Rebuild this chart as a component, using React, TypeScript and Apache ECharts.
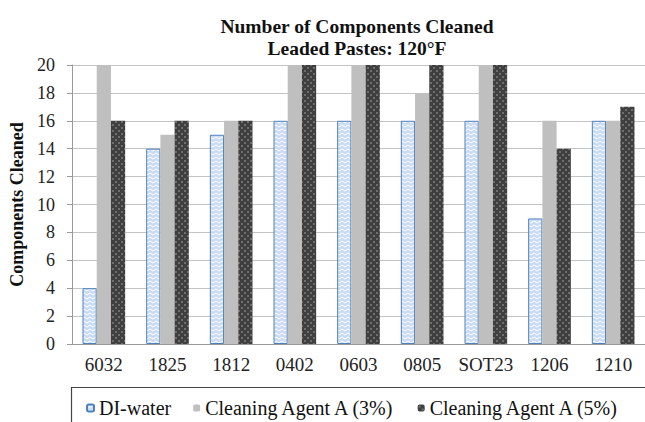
import React, { useEffect, useRef } from "react";
import * as echarts from "echarts";

const categories = ["6032", "1825", "1812", "0402", "0603", "0805", "SOT23", "1206", "1210"];
const diWater = [4, 14, 15, 16, 16, 16, 16, 9, 16];
const agent3 = [20, 15, 16, 20, 20, 18, 20, 16, 16];
const agent5 = [16, 16, 16, 20, 20, 20, 20, 14, 17];
const yTicks = { min: 0, max: 20, interval: 2 };
const seriesNames = ["DI-water", "Cleaning Agent A (3%)", "Cleaning Agent A (5%)"];

const FONT = "Liberation Serif";

function makeDiPattern(): HTMLCanvasElement {
  const c = document.createElement("canvas");
  c.width = 6;
  c.height = 4;
  const ctx = c.getContext("2d")!;
  ctx.fillStyle = "#c9dbf2";
  ctx.fillRect(0, 0, 6, 4);
  ctx.strokeStyle = "#ffffff";
  ctx.lineWidth = 1;
  ctx.beginPath();
  ctx.moveTo(0, 1);
  ctx.lineTo(3, 3);
  ctx.lineTo(6, 1);
  ctx.stroke();
  return c;
}

function makeDarkPattern(): HTMLCanvasElement {
  const c = document.createElement("canvas");
  c.width = 6;
  c.height = 6;
  const ctx = c.getContext("2d")!;
  ctx.fillStyle = "#3f3f3f";
  ctx.fillRect(0, 0, 6, 6);
  ctx.fillStyle = "#6e6e6e";
  ctx.fillRect(1, 1, 2, 2);
  ctx.fillRect(4, 4, 2, 2);
  return c;
}

export default function App() {
  const ref = useRef<HTMLDivElement>(null);
  useEffect(() => {
    if (!ref.current) return;
    const chart = echarts.init(ref.current, undefined, { renderer: "svg" });
    const diFill = { image: makeDiPattern(), repeat: "repeat" };
    const darkFill = { image: makeDarkPattern(), repeat: "repeat" };
    chart.setOption({
      animation: false,
      backgroundColor: "#ffffff",
      textStyle: { fontFamily: FONT },
      title: {
        text: "Number of Components Cleaned\nLeaded Pastes: 120°F",
        left: 352,
        top: 10,
        textAlign: "center",
        textStyle: {
          fontFamily: FONT,
          fontSize: 19.5,
          fontWeight: "bold",
          lineHeight: 22,
          color: "#111",
        },
      },
      grid: { left: 72, right: 0, top: 65, bottom: 78 },
      legend: {
        data: seriesNames,
        left: 81,
        top: 393,
        itemWidth: 7,
        itemHeight: 7,
        itemGap: 22,
        textStyle: { fontFamily: FONT, fontSize: 20, color: "#111" },
      },
      graphic: [
        {
          type: "rect",
          shape: { x: 71.5, y: 387.5, width: 620, height: 60 },
          style: { fill: "none", stroke: "#444", lineWidth: 1.2 },
          z: 0,
        },
      ],
      xAxis: {
        type: "category",
        data: categories,
        axisLine: { lineStyle: { color: "#9a9a9a" } },
        axisTick: { length: 5, lineStyle: { color: "#9a9a9a" } },
        axisLabel: { interval: 0, fontFamily: FONT, fontSize: 19, color: "#222", margin: 11 },
      },
      yAxis: {
        type: "value",
        min: yTicks.min,
        max: yTicks.max,
        interval: yTicks.interval,
        name: "Components Cleaned",
        nameLocation: "middle",
        nameGap: 43,
        nameTextStyle: { fontFamily: FONT, fontSize: 18, fontWeight: "bold", color: "#111" },
        axisLine: { show: true, lineStyle: { color: "#9a9a9a" } },
        axisTick: { show: true, length: 5, lineStyle: { color: "#9a9a9a" } },
        axisLabel: { fontFamily: FONT, fontSize: 18, color: "#222", margin: 17 },
        splitLine: { lineStyle: { color: "#c4c4c4" } },
      },
      series: [
        {
          name: seriesNames[0],
          type: "bar",
          data: diWater,
          barGap: "0%",
          barCategoryGap: "33%",
          itemStyle: { color: diFill, borderColor: "#4f81bd", borderWidth: 1 },
        },
        {
          name: seriesNames[1],
          type: "bar",
          data: agent3,
          barGap: "0%",
          barCategoryGap: "33%",
          itemStyle: { color: "#bfbfbf" },
        },
        {
          name: seriesNames[2],
          type: "bar",
          data: agent5,
          barGap: "0%",
          barCategoryGap: "33%",
          itemStyle: { color: darkFill },
        },
      ],
    });
    return () => chart.dispose();
  }, []);
  return (
    <div
      ref={ref}
      style={{ position: "absolute", left: 0, top: 0, width: 645, height: 422 }}
    />
  );
}
